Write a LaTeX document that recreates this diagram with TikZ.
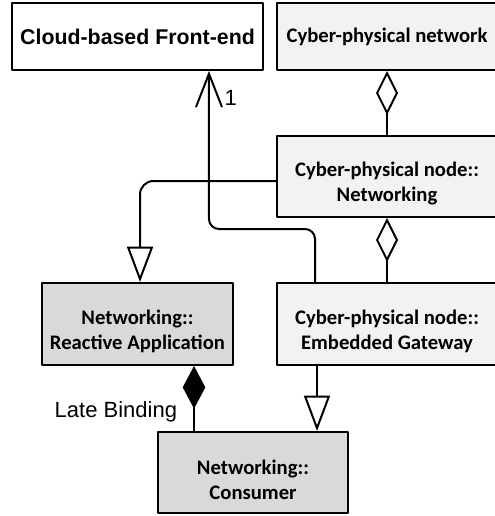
\documentclass[tikz,border=0pt]{standalone}
\usepackage{fontspec}
\setmainfont{Carlito}
\newfontfamily\arialfont{Liberation Sans}
\usetikzlibrary{arrows.meta}
\definecolor{lightfill}{HTML}{F2F2F2}
\definecolor{darkfill}{HTML}{D9D9D9}
\newcommand\topgap{\rule{0pt}{22pt}}
\begin{document}
\begin{tikzpicture}[x=0.75pt, y=-0.75pt, line width=1.5pt, line join=round,
	box/.style={draw, align=center, inner sep=0pt, font=\bfseries\fontsize{15.5}{18.75}\selectfont},
	agg/.style={-{Diamond[open,length=33pt,width=16.5pt]}},
	comp/.style={{Diamond[length=32pt,width=17pt]}-},
	gen/.style={-{Triangle[open,length=26.5pt,width=19.5pt]}},
	assoc/.style={-{Straight Barb[length=25pt,width=19.5pt]}},
	lbl/.style={font=\arialfont\fontsize{16.5}{19}\selectfont, inner sep=0pt}]
	\useasboundingbox (0,0) rectangle (494,516);
	% cac khoi
	\node[box, fill=white, minimum width=188.25pt, minimum height=50.25pt, font=\arialfont\bfseries\fontsize{16}{19}\selectfont] (front) at (137.5,36.5) {Cloud-based Front-end};
	\node[box, fill=lightfill, minimum width=165pt, minimum height=50.25pt] (net) at (387,36.5) {Cyber-physical network};
	\node[box, fill=lightfill, minimum width=165pt, minimum height=60.75pt] (cpn) at (387,176.5) {\topgap Cyber-physical node::\\Networking};
	\node[box, fill=lightfill, minimum width=165pt, minimum height=61.5pt] (gw) at (387,324) {\topgap Cyber-physical node::\\Embedded Gateway};
	\node[box, fill=darkfill, minimum width=143.25pt, minimum height=61.5pt] (app) at (137.5,324) {\topgap Networking::\\Reactive Application};
	\node[box, fill=darkfill, minimum width=142.5pt, minimum height=60.75pt] (cons) at (253,472.5) {\topgap Networking::\\Consumer};
	% cac duong noi
	\draw[agg] (cpn.north) -- (net.south);
	\draw[agg] (gw.north) -- (cpn.south);
	\draw[gen, rounded corners=10pt] ([yshift=-3.4pt]cpn.west) -| ([xshift=1.9pt]app.north);
	\draw[assoc, rounded corners=7.5pt] ([xshift=-54pt]gw.north) |- ([xshift=53.6pt,yshift=-118.5pt]front.south)
		-- node[lbl, pos=0.83, right, xshift=11pt] (one) {1} ([xshift=53.6pt]front.south);
	\draw[gen] ([xshift=-52.5pt]gw.south) -- ([xshift=-52.5pt]gw.south |- cons.north);
	\draw[comp] ([xshift=42.4pt]app.south) -- node[lbl, pos=0.7, left, xshift=-12pt] (late) {Late Binding} ([xshift=42.4pt]app.south |- cons.north);
\end{tikzpicture}
\end{document}
